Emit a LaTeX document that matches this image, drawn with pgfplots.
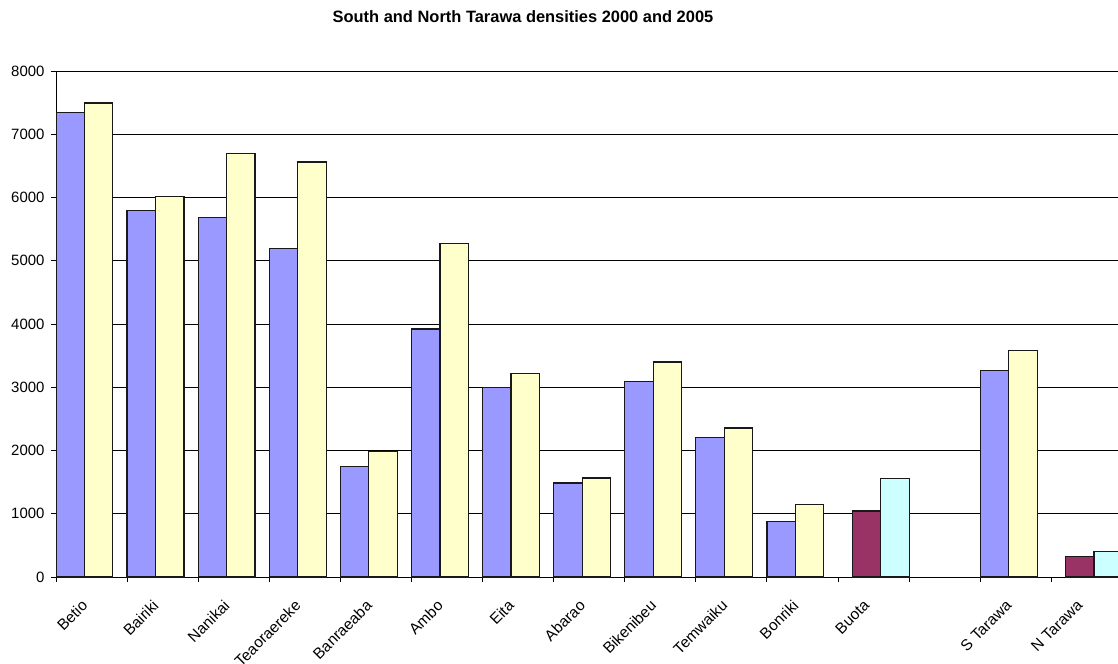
\documentclass[border=0pt]{standalone}
\usepackage{fontspec}
\setmainfont{Liberation Sans}
\usepackage{pgfplots}
\pgfplotsset{compat=1.18}
\definecolor{sblue}{HTML}{9999FF}
\definecolor{syellow}{HTML}{FFFFCC}
\definecolor{nmaroon}{HTML}{993366}
\definecolor{ncyan}{HTML}{CCFFFF}
\begin{document}
\begin{tikzpicture}
\path[use as bounding box] (0,0) rectangle (1118bp,664bp);
\begin{axis}[
 at={(56bp,87bp)}, anchor=south west,
 scale only axis, width=1062bp, height=506bp,
 xmin=-0.5, xmax=14.437, ymin=0, ymax=8000,
 axis lines*=left, axis line style={-, line width=1bp},
 ybar, bar width=0.4,
 ytick={0,1000,...,8000},
 ymajorgrids, grid style={black, line width=0.7bp},
 xtick={0,...,14},
 xticklabels={Betio,Bairiki,Nanikai,Teaoraereke,Banraeaba,Ambo,Eita,Abarao,Bikenibeu,Temwaiku,Bonriki,Buota,{},S Tarawa,N Tarawa},
 minor xtick={-0.5,0.5,...,13.5},
 tick align=outside, major tick length=5bp, minor tick length=5bp,
 tick style={black, line width=1bp},
 major x tick style={draw=none},
 xticklabel style={xshift=-11bp, yshift=-12bp, rotate=45, anchor=north east, font=\fontsize{15.5}{18}\selectfont},
 yticklabel style={font=\fontsize{15}{18}\selectfont, xshift=-3bp},
 /pgf/number format/1000 sep={},
 /pgf/number format/assume math mode=true,
 every axis plot/.append style={draw=black!90, line width=1.2bp},
]
\addplot[fill=sblue, bar shift=-0.3] coordinates {
 (0,7350) (1,5790) (2,5680) (3,5190) (4,1750) (5,3920) (6,2990) (7,1485) (8,3095) (9,2205) (10,875) (13,3265)};
\addplot[fill=nmaroon, bar shift=-0.1] coordinates {(11,1043) (14,321)};
\addplot[fill=syellow, bar shift=0.1] coordinates {
 (0,7495) (1,6010) (2,6690) (3,6560) (4,1980) (5,5270) (6,3215) (7,1565) (8,3400) (9,2355) (10,1147) (13,3580)};
\addplot[fill=ncyan, bar shift=0.3] coordinates {(11,1558) (14,405)};
\end{axis}
\node[font=\bfseries\fontsize{16.5}{20}\selectfont] at (523bp,647bp) {South and North Tarawa densities 2000 and 2005};
\end{tikzpicture}
\end{document}
